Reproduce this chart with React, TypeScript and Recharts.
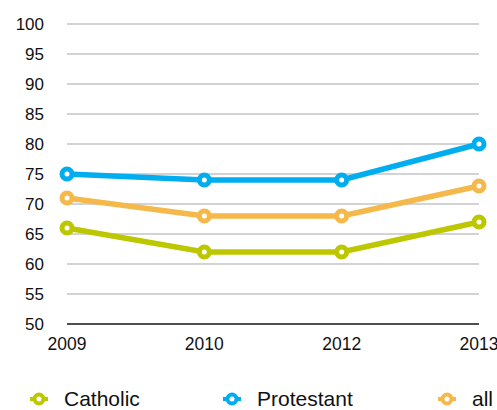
import { CartesianGrid, Line, LineChart, XAxis, YAxis, Legend } from 'recharts'

const years = ['2009', '2010', '2012', '2013']
const catholic = [66, 62, 62, 67]
const protestant = [75, 74, 74, 80]
const all = [71, 68, 68, 73]
const yTicks = [50, 55, 60, 65, 70, 75, 80, 85, 90, 95, 100]

const series = [
  { key: 'catholic', name: 'Catholic', color: '#BDC700' },
  { key: 'protestant', name: 'Protestant', color: '#00AEEF' },
  { key: 'all', name: 'all', color: '#F5B84A' },
]

const data = years.map((year, i) => ({
  year,
  catholic: catholic[i],
  protestant: protestant[i],
  all: all[i],
}))

const legendPos = [29, 222, 437]

const LegendRow = () => (
  <div style={{ position: 'relative', height: 18, width: 497 }}>
    {series.map((s, i) => (
      <div
        key={s.key}
        style={{
          position: 'absolute',
          left: legendPos[i],
          top: 0,
          height: 18,
          lineHeight: '18px',
          display: 'flex',
          alignItems: 'center',
          fontSize: 21,
          color: '#111',
        }}
      >
        <svg width={20} height={16}>
          <line x1={1} y1={8} x2={19} y2={8} stroke={s.color} strokeWidth={4} />
          <circle cx={10} cy={8} r={4.5} fill="#fff" stroke={s.color} strokeWidth={4} />
        </svg>
        <span style={{ marginLeft: 15 }}>{s.name}</span>
      </div>
    ))}
  </div>
)

export default function App() {
  return (
    <div style={{ position: 'absolute', left: 0, top: 0, fontFamily: '"Liberation Sans", Arial, sans-serif' }}>
      <LineChart
        width={497}
        height={410}
        data={data}
        margin={{ top: 24, right: 18, bottom: 0, left: 0 }}
      >
        <CartesianGrid vertical={false} stroke="#c4c4c8" strokeWidth={1.5} />
        <XAxis
          dataKey="year"
          tickLine={false}
          stroke="#222"
          strokeWidth={1.5}
          tick={{ fontSize: 17.5, fill: '#111' }}
          tickMargin={8}
          height={68}
          padding={{ left: 0, right: 0 }}
        />
        <YAxis
          domain={[50, 100]}
          ticks={yTicks}
          axisLine={false}
          tickLine={false}
          tick={{ fontSize: 17, fill: '#111' }}
          tickMargin={17}
          width={67}
        />
        <Legend verticalAlign="bottom" content={() => <LegendRow />} wrapperStyle={{ bottom: 2.5, left: 0 }} />
        {series.map((s) => (
          <Line
            key={s.key}
            dataKey={s.key}
            name={s.name}
            stroke={s.color}
            strokeWidth={5.5}
            dot={{ r: 5, fill: '#fff', stroke: s.color, strokeWidth: 5 }}
            activeDot={false}
            isAnimationActive={false}
          />
        ))}
      </LineChart>
    </div>
  )
}
